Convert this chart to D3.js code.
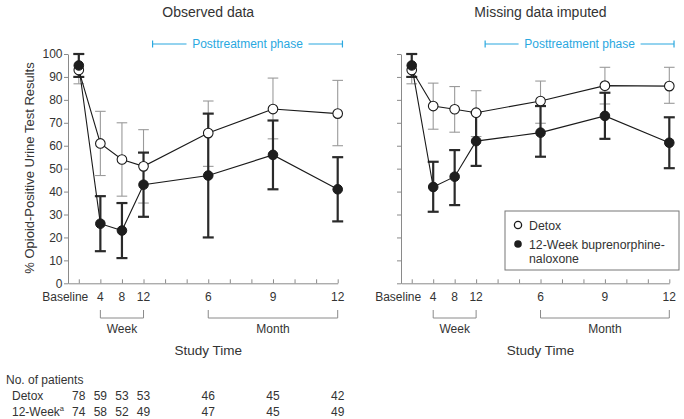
<!DOCTYPE html>
<html><head><meta charset="utf-8">
<script src="https://cdn.jsdelivr.net/npm/d3@7"></script>
<style>
body{margin:0;background:#fff;}
svg text{font-family:"Liberation Sans",Arial,sans-serif;fill:#333;}
</style></head><body>
<svg id="c" width="684" height="419"></svg>
<script>
// ---- data ----
const timeIndex = [1, 2, 3, 4, 7, 10, 13];
const timeLabels = ["Baseline", "4", "8", "12", "6", "9", "12"];
const panelTitles = ["Observed data", "Missing data imputed"];
// Observed data
const obsDetox = [93, 61, 54, 51, 65.5, 76, 74];
const obsDetoxLo = [87, 47, 38, 35, 51, 63, 60];
const obsDetoxHi = [100, 75, 70, 67, 79.5, 89.5, 88.5];
const obsBup = [95, 26, 23, 43, 47, 56, 41];
const obsBupLo = [90, 14, 11, 29, 20, 41, 27];
const obsBupHi = [100, 38, 35, 57, 74, 71, 55];
// Missing data imputed
const impDetox = [93, 77.3, 75.9, 74.4, 79.5, 86.2, 86];
const impDetoxLo = [87, 67.2, 65.9, 64, 69.8, 78.2, 78.5];
const impDetoxHi = [100, 87.3, 85.8, 84, 88.2, 94.2, 94.2];
const impBup = [95, 42, 46.5, 62, 65.7, 73, 61.3];
const impBupLo = [90, 31.2, 34.1, 51.2, 55.2, 63, 50.2];
const impBupHi = [100, 53, 58.1, 74.4, 77.3, 83.1, 72.4];
const yTicks = [0, 10, 20, 30, 40, 50, 60, 70, 80, 90, 100];
const patientsDetox = [78, 59, 53, 53, 46, 45, 42];
const patients12Week = [74, 58, 52, 49, 47, 45, 49];
const legendLabels = ["Detox", "12-Week buprenorphine-", "naloxone"];

const svg = d3.select("#c");
const y = d3.scaleLinear().domain([0, 100]).range([283.3, 54]);
const axisCol = "#8a8a8a";
const blue = "#2aa8df";
const fs = 12;

const panels = [
  {x0: 68, x1: 337.7, detox: obsDetox, dLo: obsDetoxLo, dHi: obsDetoxHi, bup: obsBup, bLo: obsBupLo, bHi: obsBupHi, labels: true},
  {x0: 401, x1: 669.3, detox: impDetox, dLo: impDetoxLo, dHi: impDetoxHi, bup: impBup, bLo: impBupLo, bHi: impBupHi, labels: false}
];

let xLeft;
panels.forEach((p, pi) => {
  const x = d3.scaleLinear().domain([0.5, 13]).range([p.x0, p.x1]);
  if (pi === 0) xLeft = x;
  const g = svg.append("g");
  // title
  g.append("text").attr("x", x(7)).attr("y", 17).attr("text-anchor", "middle")
    .attr("font-size", 14).text(panelTitles[pi]);
  // posttreatment phase
  const ps = x(4.42), pe = x(13.22), pm = (ps + pe) / 2;
  const pg = g.append("g").attr("stroke", blue).attr("stroke-width", 1.2);
  pg.append("line").attr("x1", ps).attr("x2", pm - 61).attr("y1", 44).attr("y2", 44);
  pg.append("line").attr("x1", pm + 61).attr("x2", pe).attr("y1", 44).attr("y2", 44);
  pg.append("line").attr("x1", ps).attr("x2", ps).attr("y1", 40.5).attr("y2", 47.5);
  pg.append("line").attr("x1", pe).attr("x2", pe).attr("y1", 40.5).attr("y2", 47.5);
  g.append("text").attr("x", pm).attr("y", 48.3).attr("text-anchor", "middle")
    .attr("font-size", fs).style("fill", blue).text("Posttreatment phase");

  // y axis
  const ya = g.append("g").attr("transform", `translate(${p.x0},0)`)
    .call(d3.axisLeft(y).tickValues(yTicks).tickSize(4).tickSizeOuter(0).tickFormat(p.labels ? d3.format("d") : () => ""));
  ya.select(".domain").attr("stroke", axisCol);
  ya.selectAll(".tick line").attr("stroke", axisCol);
  ya.selectAll(".tick text").attr("font-size", fs).attr("x", -5.5).style("fill", "#333")
    .attr("font-family", "Liberation Sans, Arial, sans-serif");

  // x axis
  const xa = g.append("g").attr("transform", `translate(0,${y(0)})`)
    .call(d3.axisBottom(x).tickValues(d3.range(1, 14)).tickSize(-4).tickSizeOuter(0).tickFormat(() => ""));
  xa.select(".domain").attr("stroke", axisCol);
  xa.selectAll(".tick line").attr("stroke", axisCol);
  g.selectAll(".xl").data(timeIndex).join("text")
    .attr("x", (d, i) => i === 0 ? x(d) + 9.5 : x(d)).attr("y", 300.5)
    .attr("text-anchor", (d, i) => i === 0 ? "end" : "middle")
    .attr("font-size", fs).text((d, i) => timeLabels[i]);

  // brackets
  const br = (a, b, label) => {
    g.append("path").attr("fill", "none").attr("stroke", axisCol).attr("stroke-width", 1)
      .attr("d", `M${x(a)},310 V318 H${x(b)} V310`);
    g.append("text").attr("x", (x(a) + x(b)) / 2).attr("y", 332.5).attr("text-anchor", "middle")
      .attr("font-size", fs).text(label);
  };
  br(2, 4, "Week");
  br(7, 13, "Month");
  g.append("text").attr("x", x(7)).attr("y", 354.5).attr("text-anchor", "middle")
    .attr("font-size", 13.5).text("Study Time");

  // error bars
  const eb = (vals, lo, hi, col, w, cap) => {
    const eg = g.append("g").attr("stroke", col).attr("stroke-width", w);
    timeIndex.forEach((t, i) => {
      eg.append("line").attr("x1", x(t)).attr("x2", x(t)).attr("y1", y(lo[i])).attr("y2", y(hi[i]));
      eg.append("line").attr("x1", x(t) - cap).attr("x2", x(t) + cap).attr("y1", y(lo[i])).attr("y2", y(lo[i]));
      eg.append("line").attr("x1", x(t) - cap).attr("x2", x(t) + cap).attr("y1", y(hi[i])).attr("y2", y(hi[i]));
    });
  };
  eb(p.detox, p.dLo, p.dHi, "#9a9a9a", 1.1, 5.3);
  eb(p.bup, p.bLo, p.bHi, "#2a2a2a", 2.2, 5.5);

  const line = d3.line().x((d, i) => x(timeIndex[i])).y(d => y(d));
  g.append("path").datum(p.detox).attr("fill", "none").attr("stroke", "#1a1a1a").attr("stroke-width", 1.1).attr("d", line);
  g.append("path").datum(p.bup).attr("fill", "none").attr("stroke", "#1a1a1a").attr("stroke-width", 1.1).attr("d", line);

  g.selectAll(".od").data(p.detox).join("circle")
    .attr("cx", (d, i) => x(timeIndex[i])).attr("cy", d => y(d)).attr("r", 4.8)
    .attr("fill", "#fff").attr("stroke", "#1a1a1a").attr("stroke-width", 1.1);
  g.selectAll(".fb").data(p.bup).join("circle")
    .attr("cx", (d, i) => x(timeIndex[i])).attr("cy", d => y(d)).attr("r", 4.8)
    .attr("fill", "#1e1e1e").attr("stroke", "#1a1a1a").attr("stroke-width", 1);

  if (pi === 1) {
    const lg = g.append("g");
    lg.append("rect").attr("x", 505).attr("y", 211).attr("width", 174).attr("height", 59)
      .attr("fill", "#fff").attr("stroke", "#777").attr("stroke-width", 1);
    lg.append("circle").attr("cx", 518).attr("cy", 225).attr("r", 3.6).attr("fill", "#fff").attr("stroke", "#1a1a1a").attr("stroke-width", 1.3);
    lg.append("circle").attr("cx", 518).attr("cy", 244).attr("r", 3.8).attr("fill", "#1e1e1e");
    lg.append("text").attr("x", 529).attr("y", 229.5).attr("font-size", 12.3).text(legendLabels[0]);
    lg.append("text").attr("x", 529).attr("y", 248.5).attr("font-size", 12.3).text(legendLabels[1]);
    lg.append("text").attr("x", 529).attr("y", 263).attr("font-size", 12.3).text(legendLabels[2]);
  }
});

// y axis label
svg.append("text").attr("transform", "translate(34,168) rotate(-90)")
  .attr("text-anchor", "middle").attr("font-size", 13).text("% Opioid-Positive Urine Test Results");

// patients table
svg.append("text").attr("x", 6).attr("y", 384).attr("font-size", fs).text("No. of patients");
svg.append("text").attr("x", 12).attr("y", 400).attr("font-size", fs).text("Detox");
const wk = svg.append("text").attr("x", 12).attr("y", 415.5).attr("font-size", fs);
wk.append("tspan").text("12-Week");
wk.append("tspan").attr("font-size", 7.5).attr("dy", -4.5).text("a");
svg.selectAll(".pd").data(patientsDetox).join("text")
  .attr("x", (d, i) => xLeft(timeIndex[i])).attr("y", 400).attr("text-anchor", "middle")
  .attr("font-size", fs).text(d => d);
svg.selectAll(".pw").data(patients12Week).join("text")
  .attr("x", (d, i) => xLeft(timeIndex[i])).attr("y", 415.5).attr("text-anchor", "middle")
  .attr("font-size", fs).text(d => d);
</script>
</body></html>
